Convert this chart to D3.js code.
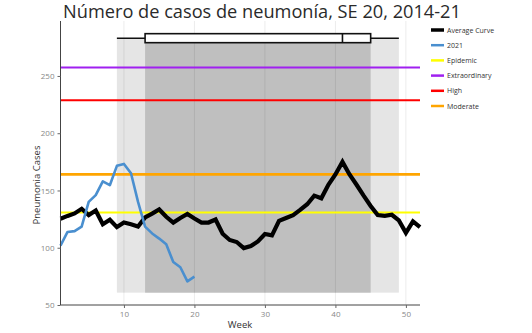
<!DOCTYPE html>
<html>
<head>
<meta charset="utf-8">
<script src="https://cdn.jsdelivr.net/npm/d3@7"></script>
<style>
  html, body { margin: 0; padding: 0; background: #fff; }
  svg { display: block; }
</style>
</head>
<body>
<svg id="chart" width="532" height="333"></svg>
<script>
// Weekly pneumonia cases, weeks 1–52
const weeks = d3.range(1, 53);
const averageCurve = [
  125.3, 127.8, 130.0, 134.0, 128.5, 132.5, 120.5, 124.5, 118.0, 122.0,
  120.5, 118.5, 126.5, 129.8, 133.4, 127.0, 122.0, 126.0, 129.5, 125.5,
  122.0, 122.0, 124.7, 112.2, 106.8, 105.0, 99.7, 101.5, 105.5, 112.0,
  110.8, 123.5, 126.0, 128.5, 133.0, 138.0, 145.5, 143.2, 155.0, 164.0,
  175.0, 164.0, 155.0, 145.5, 136.5, 128.5, 127.8, 128.8, 123.8, 113.0,
  123.0, 118.0
];
const weeks2021 = d3.range(1, 21);
const cases2021 = [
  101.9, 113.8, 114.5, 118.5, 140.0, 146.0, 158.0, 154.6, 171.5, 173.2,
  165.0, 140.0, 118.5, 112.5, 108.0, 103.0, 87.5, 83.0, 70.7, 74.8
];

// Alert thresholds
const thresholdNames = ["Epidemic", "Extraordinary", "High", "Moderate"];
const thresholdValues = [130.8, 257.5, 228.9, 164.1];
const thresholdColors = ["#ffff00", "#a020f0", "#ff0000", "#ffa500"];

// Peak-week distribution (whiskers, quartiles, median)
const peakWeekStats = { low: 9, q1: 13, median: 41, q3: 45, high: 49 };
const peakBandRange = [60.8, 283];

const xTicks = [10, 20, 30, 40, 50];
const yTicks = [50, 100, 150, 200, 250];

const svg = d3.select("#chart");
const plotLeft = 60.5, plotRight = 420, plotTop = 21, plotBottom = 305;

const x = d3.scaleLinear().domain([1, 52]).range([plotLeft, plotRight]);
const y = d3.scaleLinear().domain([50, 298]).range([plotBottom, plotTop]);

// Title
svg.append("text")
  .attr("x", 262).attr("y", 18)
  .attr("text-anchor", "middle")
  .attr("font-family", "Open Sans, sans-serif")
  .attr("font-size", 18.2)
  .attr("fill", "#2a2a2a")
  .text("Número de casos de neumonía, SE 20, 2014-21");

// Peak-week bands
svg.append("rect")
  .attr("x", x(peakWeekStats.low))
  .attr("width", x(peakWeekStats.high) - x(peakWeekStats.low))
  .attr("y", y(peakBandRange[1]))
  .attr("height", y(peakBandRange[0]) - y(peakBandRange[1]))
  .attr("fill", "#e5e5e5");
svg.append("rect")
  .attr("x", x(peakWeekStats.q1))
  .attr("width", x(peakWeekStats.q3) - x(peakWeekStats.q1))
  .attr("y", y(peakBandRange[1]))
  .attr("height", y(peakBandRange[0]) - y(peakBandRange[1]))
  .attr("fill", "#bfbfbf");

// Vertical grid
svg.append("g")
  .selectAll("line")
  .data(xTicks)
  .join("line")
  .attr("x1", d => x(d)).attr("x2", d => x(d))
  .attr("y1", plotTop).attr("y2", plotBottom)
  .attr("stroke", "#000").attr("stroke-opacity", 0.08).attr("stroke-width", 1);

// Horizontal boxplot of peak week
const boxY = y(peakBandRange[1]);
const boxG = svg.append("g");
boxG.append("line")
  .attr("x1", x(peakWeekStats.low)).attr("x2", x(peakWeekStats.high))
  .attr("y1", boxY).attr("y2", boxY)
  .attr("stroke", "#111").attr("stroke-width", 1.5);
boxG.append("rect")
  .attr("x", x(peakWeekStats.q1)).attr("y", boxY - 4.5)
  .attr("width", x(peakWeekStats.q3) - x(peakWeekStats.q1)).attr("height", 9)
  .attr("fill", "#fff").attr("stroke", "#111").attr("stroke-width", 1.6);
boxG.append("line")
  .attr("x1", x(peakWeekStats.median)).attr("x2", x(peakWeekStats.median))
  .attr("y1", boxY - 4.5).attr("y2", boxY + 4.5)
  .attr("stroke", "#111").attr("stroke-width", 1.6);

// Threshold lines
const thresholdWidths = [2, 2, 2, 2.8];
svg.append("g")
  .selectAll("line")
  .data(thresholdValues)
  .join("line")
  .attr("x1", plotLeft).attr("x2", plotRight)
  .attr("y1", d => y(d)).attr("y2", d => y(d))
  .attr("stroke", (d, i) => thresholdColors[i])
  .attr("stroke-width", (d, i) => thresholdWidths[i]);

// Series lines
const line = d3.line().x(d => x(d[0])).y(d => y(d[1]));
svg.append("path")
  .datum(weeks.map((w, i) => [w, averageCurve[i]]))
  .attr("d", line)
  .attr("fill", "none").attr("stroke", "#000")
  .attr("stroke-width", 4.2).attr("stroke-linejoin", "miter");
svg.append("path")
  .datum(weeks2021.map((w, i) => [w, cases2021[i]]))
  .attr("d", line)
  .attr("fill", "none").attr("stroke", "#4a8fcf")
  .attr("stroke-width", 2.6).attr("stroke-linejoin", "round");

// Axes
const axisFont = "Open Sans, sans-serif";
const yAxis = svg.append("g")
  .attr("transform", `translate(${plotLeft},0)`)
  .call(d3.axisLeft(y).tickValues(yTicks).tickSize(3).tickSizeOuter(0));
yAxis.select(".domain").attr("stroke", "#444").attr("d", `M0,${plotTop}V${plotBottom}`);
yAxis.selectAll(".tick line").attr("stroke", "#666");
yAxis.selectAll(".tick text")
  .attr("font-family", axisFont).attr("font-size", 8).attr("fill", "#888");

const xAxis = svg.append("g")
  .attr("transform", `translate(0,${plotBottom})`)
  .call(d3.axisBottom(x).tickValues(xTicks).tickSize(3).tickSizeOuter(0));
xAxis.select(".domain").attr("stroke", "#444").attr("d", `M${plotLeft},0H${plotRight}`);
xAxis.selectAll(".tick line").attr("stroke", "#666");
xAxis.selectAll(".tick text")
  .attr("font-family", axisFont).attr("font-size", 8).attr("fill", "#888");

svg.append("text")
  .attr("transform", `translate(40,${(plotTop + plotBottom) / 2 + 22}) rotate(-90)`)
  .attr("text-anchor", "middle")
  .attr("font-family", axisFont).attr("font-size", 9.5).attr("fill", "#333")
  .text("Pneumonia Cases");
svg.append("text")
  .attr("x", 240).attr("y", 328)
  .attr("text-anchor", "middle")
  .attr("font-family", axisFont).attr("font-size", 9.5).attr("fill", "#333")
  .text("Week");

// Legend
const legendNames = ["Average Curve", "2021"].concat(thresholdNames);
const legendColors = ["#000", "#4a8fcf"].concat(thresholdColors);
const legendWidths = [3.5, 2.5, 2.5, 2.5, 2.5, 2.5];
const legend = svg.append("g")
  .selectAll("g")
  .data(legendNames)
  .join("g")
  .attr("transform", (d, i) => `translate(431,${30 + i * 15.2})`);
legend.append("line")
  .attr("x1", 0).attr("x2", 13)
  .attr("stroke", (d, i) => legendColors[i])
  .attr("stroke-width", (d, i) => legendWidths[i]);
legend.append("text")
  .attr("x", 16).attr("y", 2.5)
  .attr("font-family", axisFont).attr("font-size", 7).attr("fill", "#333")
  .text(d => d);
</script>
</body>
</html>
